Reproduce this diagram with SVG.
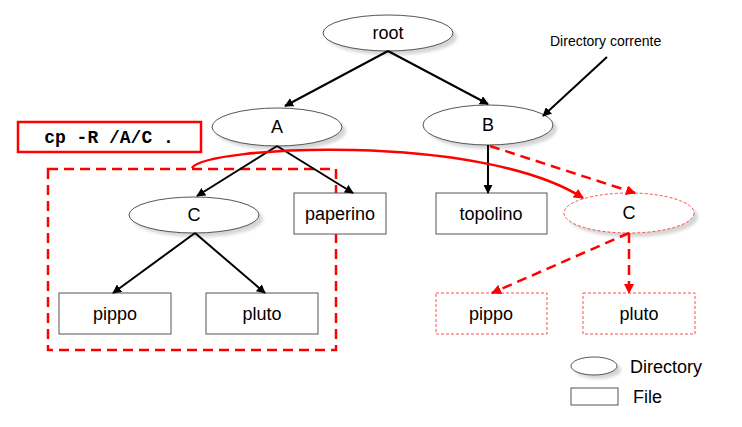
<svg xmlns="http://www.w3.org/2000/svg" width="742" height="427" viewBox="0 0 742 427">
  <style>
    .dir { fill: #fff; stroke: #555; stroke-width: 1; }
    .shadow { fill: #d6d6d6; filter: url(#soft); }
    .file { fill: #fff; stroke: #555; stroke-width: 1; }
    .copy { fill: #fff; stroke: #ff4d4d; stroke-width: 1; stroke-dasharray: 3 2; }
    .lbl { font-family: "Liberation Sans", Arial, sans-serif; font-size: 18px; fill: #000; text-anchor: middle; }
    .edge { stroke: #000; stroke-width: 2; fill: none; marker-end: url(#ah); }
    .redge { stroke: #f00; stroke-width: 2.5; fill: none; stroke-dasharray: 10 6; marker-end: url(#rh); }
  </style>
  <defs>
    <filter id="soft" x="-20%" y="-40%" width="140%" height="180%">
      <feGaussianBlur stdDeviation="1.5"/>
    </filter>
    <marker id="ah" viewBox="0 0 10 10" refX="9" refY="5" markerWidth="4.5" markerHeight="4.5" orient="auto" markerUnits="strokeWidth">
      <path d="M0,0 L10,5 L0,10 z" fill="#000"/>
    </marker>
    <marker id="rh" viewBox="0 0 10 10" refX="9" refY="5" markerWidth="4" markerHeight="4" orient="auto" markerUnits="strokeWidth">
      <path d="M0,0 L10,5 L0,10 z" fill="#f00"/>
    </marker>
  </defs>
  <rect width="742" height="427" fill="#fff"/>

  <!-- copied subtree frame and command -->
  <rect x="48" y="169" width="288" height="181" fill="none" stroke="#f00" stroke-width="2.5" stroke-dasharray="10 6"/>
  <g id="command">
    <rect x="18" y="122" width="183" height="30" fill="#fff" stroke="#f00" stroke-width="2.5"/>
    <text x="109" y="143" font-family="'Liberation Mono', 'Courier New', monospace" font-size="18" font-weight="bold" text-anchor="middle" xml:space="preserve">cp -R /A/C .</text>
  </g>

  <!-- nodes -->
  <g id="root">
    <ellipse class="shadow" cx="392" cy="37" rx="65" ry="18"/>
    <ellipse class="dir" cx="388" cy="33" rx="65" ry="18"/>
    <text class="lbl" x="388" y="39">root</text>
  </g>
  <g id="dirA">
    <ellipse class="shadow" cx="281" cy="131" rx="65" ry="19"/>
    <ellipse class="dir" cx="277" cy="127" rx="65" ry="19"/>
    <text class="lbl" x="277" y="133">A</text>
  </g>
  <g id="dirB">
    <ellipse class="shadow" cx="492" cy="129" rx="65" ry="20"/>
    <ellipse class="dir" cx="488" cy="125" rx="65" ry="20"/>
    <text class="lbl" x="488" y="131">B</text>
  </g>
  <g id="dirC">
    <ellipse class="shadow" cx="198" cy="219" rx="65" ry="18"/>
    <ellipse class="dir" cx="194" cy="215" rx="65" ry="18"/>
    <text class="lbl" x="194" y="221">C</text>
  </g>
  <g id="paperino">
    <rect class="file" x="294" y="193" width="92" height="41"/>
    <text class="lbl" x="340" y="220">paperino</text>
  </g>
  <g id="topolino">
    <rect class="file" x="436" y="193" width="111" height="41"/>
    <text class="lbl" x="491" y="220">topolino</text>
  </g>
  <g id="pippo">
    <rect class="file" x="59" y="293" width="112" height="41"/>
    <text class="lbl" x="115" y="320">pippo</text>
  </g>
  <g id="pluto">
    <rect class="file" x="206" y="293" width="112" height="41"/>
    <text class="lbl" x="262" y="320">pluto</text>
  </g>
  <g id="dirC-copy">
    <ellipse class="shadow" cx="633" cy="217" rx="65" ry="20"/>
    <ellipse class="copy" cx="629" cy="213" rx="65" ry="20"/>
    <text class="lbl" x="629" y="219">C</text>
  </g>
  <g id="pippo-copy">
    <rect class="copy" x="436" y="293" width="111" height="41"/>
    <text class="lbl" x="491" y="320">pippo</text>
  </g>
  <g id="pluto-copy">
    <rect class="copy" x="583" y="293" width="112" height="41"/>
    <text class="lbl" x="639" y="320">pluto</text>
  </g>
  <g id="current-label">
    <text x="550" y="46" font-family="'Liberation Sans', Arial, sans-serif" font-size="14" fill="#000">Directory corrente</text>
  </g>

  <!-- connectors -->
  <g id="connectors">
    <line class="edge" x1="388" y1="51" x2="285" y2="106"/>
    <line class="edge" x1="388" y1="51" x2="488" y2="104"/>
    <line class="edge" x1="607" y1="57" x2="543" y2="116"/>
    <line class="edge" x1="277" y1="146" x2="197" y2="196"/>
    <line class="edge" x1="277" y1="146" x2="353" y2="193"/>
    <line class="edge" x1="195" y1="233" x2="113" y2="293"/>
    <line class="edge" x1="195" y1="233" x2="265" y2="293"/>
    <line class="edge" x1="488" y1="145" x2="488" y2="193"/>
    <line class="redge" x1="490" y1="146" x2="635" y2="193"/>
    <line class="redge" x1="629" y1="233" x2="492" y2="293"/>
    <line class="redge" x1="629" y1="233" x2="629" y2="293"/>
    <path d="M192,168 C205,146 480,132 583,198" stroke="#f00" stroke-width="2.5" fill="none" marker-end="url(#rh)"/>
  </g>

  <!-- legend -->
  <g id="legend">
    <ellipse class="shadow" cx="598" cy="370" rx="23" ry="9"/>
    <ellipse class="dir" cx="594" cy="366" rx="23" ry="9"/>
    <text x="630" y="373" font-family="'Liberation Sans', Arial, sans-serif" font-size="18" fill="#000">Directory</text>
    <rect class="file" x="571" y="388" width="47" height="17"/>
    <text x="633" y="403" font-family="'Liberation Sans', Arial, sans-serif" font-size="18" fill="#000">File</text>
  </g>
</svg>
